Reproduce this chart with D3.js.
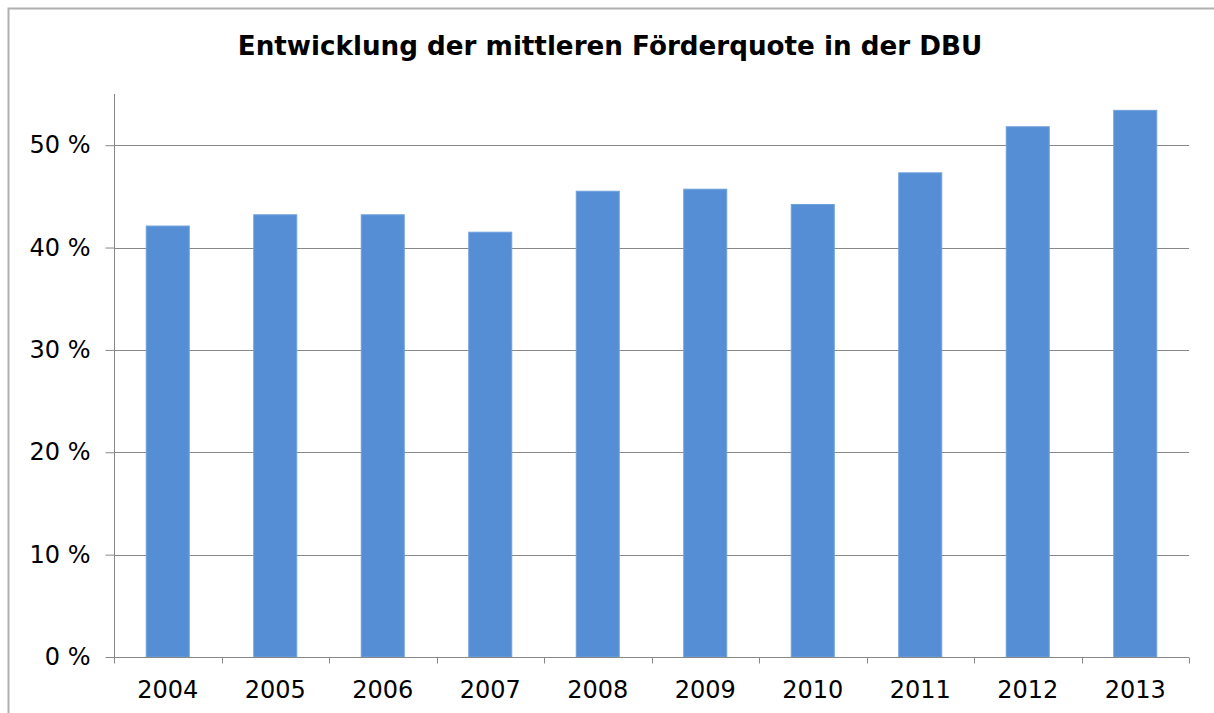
<!DOCTYPE html>
<html>
<head>
    <meta charset="utf-8" />
    <title>Entwicklung der mittleren Förderquote</title>
    <style>
        body {
            margin: 0;
            background-color: white;
        }

        text {
          font-family: Verdana, "DejaVu Sans", sans-serif;
          fill: black;
        }

        .title {
          font-size: 26.2px;
          font-weight: bold;
        }

        .tick text {
          font-size: 24px;
        }
    </style>
    <script src="https://cdnjs.cloudflare.com/ajax/libs/d3/7.8.5/d3.min.js"></script>
</head>
<body>
    <script>
        var years = ['2004', '2005', '2006', '2007', '2008', '2009', '2010', '2011', '2012', '2013'];
        var quote = [42.1, 43.2, 43.2, 41.5, 45.5, 45.7, 44.2, 47.3, 51.8, 53.4];
        var yTicks = [0, 10, 20, 30, 40, 50];

        var width = 1214,
            height = 713;

        var margin = {top: 94, right: 25, bottom: 56, left: 114};

        var svg = d3.select("body").append("svg")
                    .attr("width", width)
                    .attr("height", height);

        // chart border
        svg.append("rect")
            .attr("x", 8.5)
            .attr("y", 8.5)
            .attr("width", width + 20)
            .attr("height", height + 20)
            .attr("fill", "white")
            .attr("stroke", "#b0b0b0")
            .attr("stroke-width", 2);

        svg.append("text")
            .attr("class", "title")
            .attr("x", 610)
            .attr("y", 55)
            .attr("text-anchor", "middle")
            .text("Entwicklung der mittleren Förderquote in der DBU");

        var x = d3.scaleBand()
                  .domain(years)
                  .range([margin.left, width - margin.right])
                  .paddingInner(0.6)
                  .paddingOuter(0.3);

        var y = d3.scaleLinear()
                  .domain([0, 55])
                  .range([height - margin.bottom, margin.top]);

        // gridlines
        svg.append("g")
            .selectAll("line")
            .data(yTicks.filter(d => d > 0))
            .enter().append("line")
            .attr("x1", margin.left)
            .attr("x2", width - margin.right)
            .attr("y1", d => Math.round(y(d)) + 0.5)
            .attr("y2", d => Math.round(y(d)) + 0.5)
            .attr("stroke", "#888888")
            .attr("stroke-width", 1);

        // bars
        svg.append("g")
            .selectAll("rect")
            .data(quote)
            .enter().append("rect")
            .attr("x", (d, i) => x(years[i]))
            .attr("y", d => y(d))
            .attr("width", x.bandwidth())
            .attr("height", d => y(0) - y(d))
            .attr("fill", "#558ed5")
            .attr("stroke", "#6fa0dc")
            .attr("stroke-width", 1);

        // y axis
        var yAxis = svg.append("g")
            .attr("transform", "translate(" + (margin.left + 0.5) + ",0)")
            .call(d3.axisLeft(y)
                .tickValues(yTicks)
                .tickSize(9)
                .tickPadding(15)
                .tickFormat(d => d + " %"));

        yAxis.select(".domain")
            .attr("d", "M0," + margin.top + "V" + y(0));

        // x axis with ticks at category boundaries
        var bounds = years.map(d => x(d) - x.step() * x.paddingInner() / 2);
        bounds.push(width - margin.right);

        var xAxis = svg.append("g")
            .attr("transform", "translate(0," + (Math.round(y(0)) + 0.5) + ")");

        xAxis.append("line")
            .attr("x1", margin.left)
            .attr("x2", width - margin.right)
            .attr("stroke", "#888888");

        xAxis.selectAll(".bt")
            .data(bounds)
            .enter().append("line")
            .attr("class", "bt")
            .attr("x1", d => Math.round(d) + 0.5)
            .attr("x2", d => Math.round(d) + 0.5)
            .attr("y1", 0)
            .attr("y2", 6)
            .attr("stroke", "#888888");

        xAxis.selectAll(".lbl")
            .data(years)
            .enter().append("text")
            .attr("class", "lbl")
            .attr("x", d => x(d) + x.bandwidth() / 2)
            .attr("y", 40)
            .attr("text-anchor", "middle")
            .style("font-size", "24px")
            .text(d => d);

        yAxis.selectAll("line").attr("stroke", "#888888");
        yAxis.select(".domain").attr("stroke", "#888888");
    </script>
</body>
</html>
